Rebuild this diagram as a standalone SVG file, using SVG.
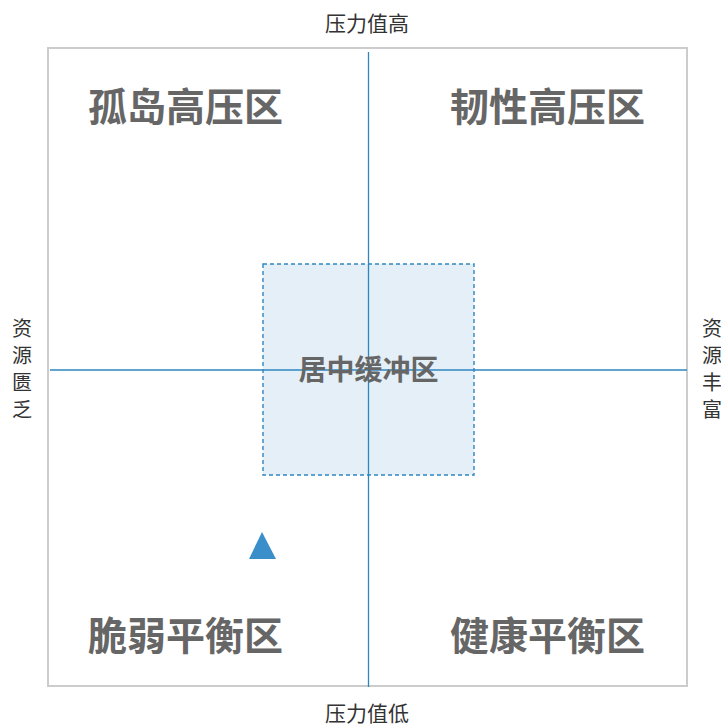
<svg xmlns="http://www.w3.org/2000/svg" width="721" height="726" viewBox="0 0 721 726">
<style>
.zone{font-family:"Noto Sans CJK SC","Noto Sans",sans-serif;font-weight:bold;fill:#666;text-anchor:middle}
.lbl{font-family:"Noto Sans CJK SC","Noto Sans",sans-serif;fill:#333;text-anchor:middle;font-size:21px}
.vlbl{font-family:"Noto Sans CJK SC","Noto Sans",sans-serif;fill:#333;text-anchor:middle;font-size:20px;writing-mode:vertical-rl;letter-spacing:7px}
.axis{stroke:#2e86c1;stroke-width:1.3;fill:none}
</style>
<rect width="721" height="726" fill="#fff"/>
<g id="frame"><rect x="48" y="48" width="639" height="638" fill="none" stroke="#cccccc" stroke-width="2"/></g>
<g id="buffer"><rect x="263" y="264" width="211" height="211" fill="#e4eff7" stroke="#2e86c1" stroke-width="1.4" stroke-dasharray="4,3"/></g>
<g id="connectors">
<line class="axis" x1="368.5" y1="52" x2="368.5" y2="687"/>
<line class="axis" x1="50" y1="370" x2="687" y2="370"/>
</g>
<g id="q1"><text class="zone" x="185.5" y="121" font-size="39">孤岛高压区</text></g>
<g id="q2"><text class="zone" x="547.5" y="121" font-size="39">韧性高压区</text></g>
<g id="q3"><text class="zone" x="185.5" y="650" font-size="39">脆弱平衡区</text></g>
<g id="q4"><text class="zone" x="547.5" y="650" font-size="39">健康平衡区</text></g>
<g id="center"><text class="zone" x="368.5" y="380" font-size="28">居中缓冲区</text></g>
<g id="marker"><polygon points="262,532 276,559 249,559" fill="#3a8fca"/></g>
<g id="labels">
<text class="lbl" x="367" y="31">压力值高</text>
<text class="lbl" x="367" y="721">压力值低</text>
<text class="vlbl" x="22" y="372">资源匮乏</text>
<text class="vlbl" x="712" y="372">资源丰富</text>
</g>
</svg>
